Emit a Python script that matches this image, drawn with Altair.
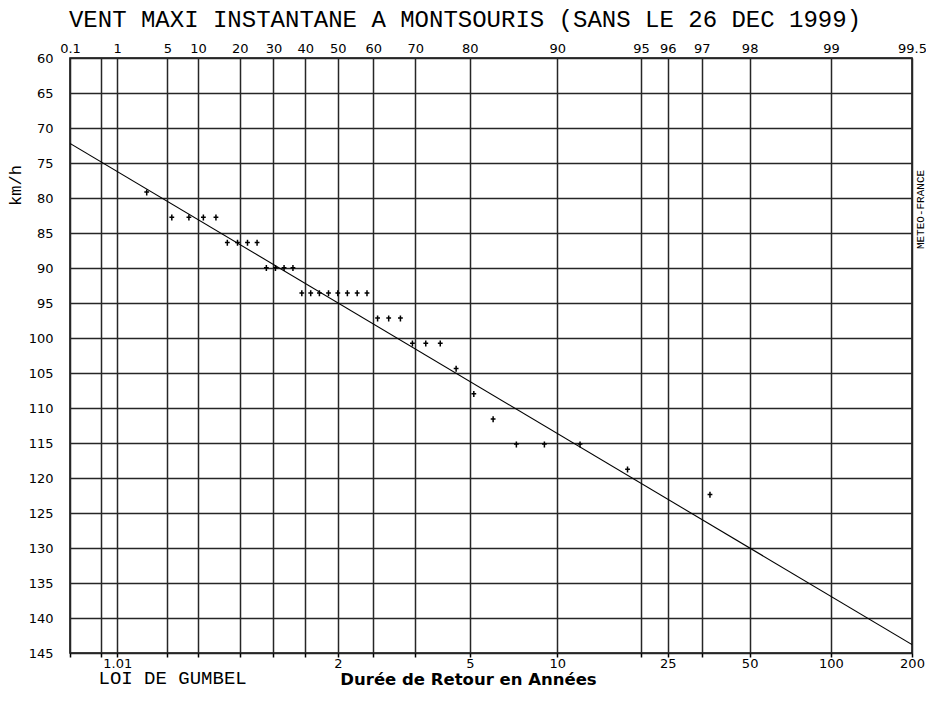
import math
import altair as alt
import pandas as pd

# ---- data -------------------------------------------------------------
# plotting positions: non-exceedance frequency (%) of each ranked annual maximum
freq_pct = [2.8, 5.6, 8.3, 11.1, 13.9, 16.7, 19.4, 22.2, 25.0, 27.8, 30.6, 33.3,
            36.1, 38.9, 41.7, 44.4, 47.2, 50.0, 52.8, 55.6, 58.3, 61.1, 63.9, 66.7,
            69.4, 72.2, 75.0, 77.8, 80.6, 83.3, 86.1, 88.9, 91.7, 94.4, 97.2]
# annual maximum instantaneous wind (km/h)
wind_kmh = [79.2, 82.8, 82.8, 82.8, 82.8, 86.4, 86.4, 86.4, 86.4, 90.0, 90.0, 90.0,
            90.0, 93.6, 93.6, 93.6, 93.6, 93.6, 93.6, 93.6, 93.6, 97.2, 97.2, 97.2,
            100.8, 100.8, 100.8, 104.4, 108.0, 111.6, 115.2, 115.2, 115.2, 118.8, 122.4]
# fitted Gumbel line, read at both ends of the paper
fit_freq = [0.1, 99.5]
fit_kmh = [72.2, 143.8]

# probability-paper graduations
grid_freq = [0.1, 0.5, 1, 5, 10, 20, 30, 40, 50, 60, 70, 80, 90, 95, 96, 97, 98, 99, 99.5]
top_labels = ["0.1", "", "1", "5", "10", "20", "30", "40", "50", "60", "70", "80",
              "90", "95", "96", "97", "98", "99", "99.5"]
return_freq = [1, 50, 80, 90, 96, 98, 99, 99.5]
return_labels = ["1.01", "2", "5", "10", "25", "50", "100", "200"]
y_ticks = list(range(60, 150, 5))


def gumbel_u(p):
    """Gumbel reduced variate for a frequency in percent."""
    return -math.log(-math.log(p / 100.0))


pts = pd.DataFrame({"u": [gumbel_u(p) for p in freq_pct], "v": wind_kmh})
fit = pd.DataFrame({"u": [gumbel_u(p) for p in fit_freq], "v": fit_kmh})

grid_u = [gumbel_u(p) for p in grid_freq]


def label_expr(pairs):
    expr = "''"
    for u, lab in reversed(pairs):
        expr = f"round(datum.value*1000)=={round(u * 1000)} ? '{lab}' : ({expr})"
    return expr


top_expr = label_expr(list(zip(grid_u, top_labels)))
bottom_map = dict(zip(return_freq, return_labels))
bottom_expr = label_expr([(gumbel_u(p), bottom_map.get(p, "")) for p in grid_freq])

W, H = 842, 595
GRID = "#262626"
TICKFONT = "DejaVu Sans"
VECFONT = "Liberation Mono"
TICKSIZE = 13

xscale = alt.Scale(domain=[gumbel_u(0.1), gumbel_u(99.5)], nice=False, zero=False)
yscale = alt.Scale(domain=[60, 145], reverse=True, nice=False, zero=False)

points = alt.Chart(pts).mark_point(
    shape="M0,-1L0,1M-0.8,-0.1L0.8,-0.1", size=36, filled=False,
    stroke="black", strokeWidth=1.5, opacity=1
).encode(
    x=alt.X("u:Q", scale=xscale, axis=alt.Axis(
        orient="top", values=grid_u, labelExpr=top_expr, grid=True,
        gridColor=GRID, gridWidth=1.5, gridOpacity=1, ticks=False, domain=False,
        labelPadding=3, labelFont=TICKFONT, labelFontSize=TICKSIZE, labelColor="black",
        labelFlush=False, labelOverlap=False, labelBound=False,
        title="LOI DE GUMBEL", titleX=28, titleY=H + 30.5, titleAlign="left",
        titleBaseline="alphabetic", titleAngle=0, titleFont=VECFONT,
        titleFontSize=19, titleFontWeight="normal", titleColor="black")),
    y=alt.Y("v:Q", scale=yscale, axis=alt.Axis(
        orient="left", values=y_ticks, grid=True, gridColor=GRID, gridWidth=1.5,
        gridOpacity=1, ticks=False, domain=False, labelPadding=17,
        labelFont=TICKFONT, labelFontSize=TICKSIZE, labelColor="black",
        labelOverlap=False, labelBound=False,
        title="km/h", titleAngle=270, titleX=-55, titleY=127, titleAlign="center",
        titleBaseline="middle", titleFont=VECFONT, titleFontSize=17,
        titleFontWeight="normal", titleColor="black")),
)

line = alt.Chart(fit).mark_line(color="black", strokeWidth=1.1, clip=True).encode(
    x=alt.X("u:Q", scale=xscale, axis=alt.Axis(
        orient="bottom", values=grid_u, labelExpr=bottom_expr, grid=False,
        ticks=True, tickSize=4, tickColor="black", tickWidth=1.5, domain=False,
        labelPadding=0, labelFont=TICKFONT, labelFontSize=TICKSIZE, labelColor="black",
        labelFlush=False, labelOverlap=False, labelBound=False,
        title="Durée de Retour en Années", titleX=398, titleY=31,
        titleAlign="center", titleBaseline="alphabetic", titleFont=TICKFONT,
        titleFontSize=16.5, titleFontWeight="bold", titleColor="black")),
    y=alt.Y("v:Q", scale=yscale, axis=alt.Axis(
        orient="right", labels=False, ticks=False, domain=False, grid=False,
        title="METEO-FRANCE", titleAngle=270, titleX=8, titleY=151,
        titleAlign="center", titleBaseline="middle", titleFont=VECFONT,
        titleFontSize=11, titleFontWeight="normal", titleColor="black")),
)

chart = alt.layer(points, line).resolve_axis(
    x="independent", y="independent"
).properties(
    width=W, height=H,
    title=alt.TitleParams(
        "VENT MAXI INSTANTANE A MONTSOURIS (SANS LE 26 DEC 1999)",
        font=VECFONT, fontSize=24, fontWeight="normal", color="black",
        anchor="middle", dx=-26, dy=23, offset=14, baseline="alphabetic"),
    autosize=alt.AutoSizeParams(type="none"),
    padding={"left": 62, "top": 50, "right": 14, "bottom": 35},
    background="white",
).configure_view(stroke="black", strokeWidth=1.5)

chart.save("out.html", embed_options={"renderer": "svg", "actions": False})
